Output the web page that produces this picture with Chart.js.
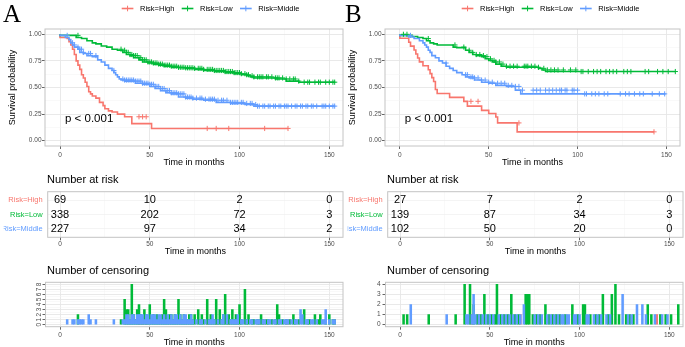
<!DOCTYPE html>
<html lang="en">
<head>
  <meta charset="UTF-8">
  <title>Survival by risk group</title>
  <script src="https://cdn.jsdelivr.net/npm/chart.js"></script>
  <style>
    body { margin: 0; background: #fff; }
    #wrap { position: relative; width: 685px; height: 347px; overflow: hidden; }
    #wrap canvas { position: absolute; left: 0; top: 0; }
    .tag { position: absolute; top: 1px; font-family: 'Liberation Serif', 'Times New Roman', serif; font-size: 25px; line-height: 1; color: #000; }
  </style>
</head>
<body>
  <div id="wrap">
    <canvas id="kmA" width="685" height="347"></canvas>
    <canvas id="tabA" width="685" height="347"></canvas>
    <canvas id="censA" width="685" height="347"></canvas>
    <canvas id="kmB" width="685" height="347"></canvas>
    <canvas id="tabB" width="685" height="347"></canvas>
    <canvas id="censB" width="685" height="347"></canvas>
    <div class="tag" style="left:3px">A</div>
    <div class="tag" style="left:345px">B</div>
  </div>

  <script>
    // ---- data ----
    const strata = ['Risk=High', 'Risk=Low', 'Risk=Middle'];
    const monthTicks = [0, 25, 50, 75, 100, 125, 150];
    const survTicks = [0, 0.125, 0.25, 0.375, 0.5, 0.625, 0.75, 0.875, 1];
    const riskTimes = [0, 50, 100, 150];

    // Panel A: survival curves
    const aHighT = [0, 4, 5, 6, 7, 8, 9, 10, 11, 12, 13, 14, 15, 16, 17, 18, 20, 22, 24, 25, 27, 29, 32, 36, 40, 51, 52, 127];
    const aHighS = [1, 0.97, 0.96, 0.93, 0.90, 0.86, 0.81, 0.75, 0.71, 0.67, 0.62, 0.59, 0.55, 0.51, 0.46, 0.44, 0.42, 0.40, 0.36, 0.33, 0.30, 0.28, 0.27, 0.25, 0.225, 0.16, 0.115, 0.115];
    const aLowT = [0, 9, 12, 15, 18, 20, 23, 26, 29, 32, 35, 37, 39, 41, 44, 46, 49, 52, 55, 58, 62, 66, 70, 75, 80, 86, 92, 97, 101, 104, 106, 108, 120, 126, 133, 135, 153];
    const aLowS = [1, 0.99, 0.97, 0.96, 0.94, 0.92, 0.91, 0.89, 0.88, 0.86, 0.85, 0.83, 0.81, 0.80, 0.78, 0.76, 0.74, 0.73, 0.72, 0.71, 0.70, 0.69, 0.685, 0.68, 0.67, 0.66, 0.65, 0.64, 0.63, 0.62, 0.61, 0.60, 0.59, 0.58, 0.56, 0.55, 0.55];
    const aMidT = [0, 3, 5, 6, 7, 8, 10, 11, 13, 15, 18, 21, 23, 25, 27, 29, 30, 31, 32, 33, 34, 36, 42, 46, 50, 53, 56, 59, 62, 66, 70, 74, 80, 87, 95, 103, 108, 110, 153];
    const aMidS = [1, 0.99, 0.97, 0.95, 0.92, 0.90, 0.88, 0.86, 0.83, 0.82, 0.80, 0.79, 0.76, 0.74, 0.71, 0.68, 0.66, 0.64, 0.62, 0.60, 0.58, 0.57, 0.56, 0.54, 0.53, 0.51, 0.49, 0.47, 0.45, 0.44, 0.41, 0.40, 0.39, 0.38, 0.36, 0.35, 0.34, 0.325, 0.325];

    // Panel A: number at risk
    const aRiskHigh = [69, 10, 2, 0];
    const aRiskLow = [338, 202, 72, 3];
    const aRiskMid = [227, 97, 34, 2];

    // Panel A: censoring times and counts
    const aCensHighT = [44, 46, 48, 82, 87, 94, 114, 127];
    const aCensHighN = [1, 1, 1, 1, 1, 1, 1, 1];
    const aCensLowT = [10, 34, 36, 37, 38, 39, 40, 41, 42, 43,
      44, 45, 46, 47, 48, 49, 50, 51, 52, 53,
      54, 55, 56, 57, 58, 59, 60, 61, 62, 63,
      64, 65, 66, 67, 68, 69, 70, 71, 72, 73,
      74, 75, 77, 78, 79, 80, 82, 83, 84, 85,
      86, 87, 88, 89, 90, 91, 92, 93, 94, 95,
      96, 97, 98, 99, 100, 101, 103, 104, 105, 107,
      108, 110, 111, 112, 113, 115, 116, 118, 120, 121,
      122, 124, 126, 128, 130, 131, 133, 136, 138, 139,
      142, 144, 145, 148, 150, 152, 153];
    const aCensLowN = [2, 1, 5, 3, 3, 1, 8, 2, 1, 3,
      4, 2, 1, 3, 2, 1, 4, 1, 2, 1,
      2, 1, 1, 2, 5, 3, 1, 2, 2, 1,
      2, 1, 5, 2, 1, 2, 1, 1, 2, 2,
      1, 2, 3, 1, 2, 1, 5, 1, 2, 1,
      1, 5, 1, 3, 1, 2, 6, 1, 2, 1,
      3, 1, 2, 1, 4, 1, 7, 1, 2, 1,
      1, 1, 1, 2, 1, 1, 1, 1, 1, 4,
      2, 1, 1, 1, 2, 1, 1, 3, 1, 1,
      2, 1, 2, 1, 2, 1, 1];
    const aCensMidT = [4, 7, 8, 10, 11, 12, 13, 16, 17, 20,
      30, 35, 36, 37, 38, 39, 40, 41, 42, 43,
      44, 45, 46, 47, 48, 49, 50, 51, 52, 53,
      54, 55, 56, 57, 58, 59, 60, 61, 62, 63,
      64, 65, 66, 67, 68, 69, 70, 71, 72, 73,
      74, 76, 78, 79, 81, 83, 84, 85, 86, 88,
      90, 91, 93, 95, 96, 97, 98, 99, 101, 102,
      104, 106, 107, 109, 110, 111, 113, 114, 116, 117,
      119, 120, 122, 123, 125, 126, 127, 129, 131, 132,
      134, 135, 137, 138, 140, 141, 143, 146, 147, 148,
      150, 152, 153];
    const aCensMidN = [1, 1, 1, 1, 1, 1, 1, 2, 1, 1,
      1, 1, 1, 2, 2, 1, 2, 2, 1, 2,
      2, 2, 2, 1, 2, 2, 1, 2, 2, 2,
      1, 2, 2, 1, 2, 1, 2, 1, 2, 1,
      2, 2, 1, 2, 1, 2, 2, 1, 1, 2,
      1, 1, 1, 1, 1, 1, 1, 2, 1, 1,
      1, 2, 2, 1, 1, 1, 1, 2, 1, 1,
      1, 1, 1, 1, 1, 1, 1, 1, 1, 1,
      1, 1, 1, 1, 1, 1, 1, 1, 1, 1,
      3, 2, 1, 1, 1, 1, 1, 1, 1, 3,
      1, 1, 1];

    // Panel B: survival curves
    const bHighT = [0, 5, 6, 8, 9, 10, 11, 13, 16, 17, 18, 19, 20, 21, 28, 36, 38, 46, 50, 54, 55, 66, 106, 143];
    const bHighS = [1, 0.963, 0.926, 0.889, 0.852, 0.815, 0.778, 0.741, 0.704, 0.667, 0.630, 0.593, 0.556, 0.481, 0.444, 0.407, 0.370, 0.325, 0.285, 0.255, 0.222, 0.167, 0.083, 0.083];
    const bLowT = [0, 7, 10, 13, 15, 17, 19, 21, 30, 32, 37, 39, 41, 43, 46, 48, 50, 52, 54, 57, 60, 78, 80, 82, 101, 155];
    const bLowS = [1, 0.99, 0.98, 0.97, 0.96, 0.94, 0.92, 0.91, 0.90, 0.88, 0.875, 0.85, 0.83, 0.81, 0.80, 0.79, 0.77, 0.755, 0.74, 0.72, 0.70, 0.69, 0.68, 0.665, 0.65, 0.65];
    const bMidT = [0, 5, 8, 11, 13, 14, 15, 16, 17, 18, 20, 22, 24, 26, 28, 30, 32, 35, 37, 39, 42, 46, 50, 54, 60, 65, 68, 104, 149.5];
    const bMidS = [1, 0.99, 0.975, 0.96, 0.94, 0.92, 0.90, 0.88, 0.85, 0.83, 0.80, 0.78, 0.75, 0.73, 0.70, 0.68, 0.66, 0.64, 0.62, 0.60, 0.59, 0.57, 0.55, 0.54, 0.52, 0.51, 0.475, 0.44, 0.44];

    // Panel B: number at risk
    const bRiskHigh = [27, 7, 2, 0];
    const bRiskLow = [139, 87, 34, 3];
    const bRiskMid = [102, 50, 20, 0];

    // Panel B: censoring times and counts
    const bCensHighT = [40, 44, 67, 143];
    const bCensHighN = [1, 1, 1, 1];
    const bCensLowT = [2, 4, 16, 31, 36, 39, 41, 43, 45, 47,
      49, 51, 53, 54, 56, 58, 60, 62, 64, 66,
      70, 71, 72, 74, 76, 78, 81, 83, 85, 87,
      89, 92, 96, 99, 102, 103, 106, 109, 111, 113,
      116, 118, 120, 122, 126, 128, 130, 138, 140, 145,
      148, 151, 155];
    const bCensLowN = [1, 1, 1, 1, 4, 4, 2, 1, 1, 3,
      1, 1, 1, 4, 1, 1, 1, 3, 1, 1,
      3, 3, 3, 1, 1, 1, 2, 1, 1, 1,
      1, 1, 2, 1, 2, 2, 1, 1, 1, 3,
      1, 3, 4, 1, 1, 1, 1, 2, 1, 1,
      1, 1, 2];
    const bCensMidT = [6, 26, 37, 38, 40, 41, 42, 44, 46, 48,
      50, 52, 55, 57, 59, 61, 63, 65, 67, 69,
      75, 77, 79, 82, 84, 86, 88, 90, 91, 93,
      94, 97, 98, 100, 104, 105, 108, 110, 112, 115,
      117, 124, 127, 129, 132, 135, 137, 142, 146, 149];
    const bCensMidN = [2, 1, 1, 1, 1, 3, 1, 1, 1, 1,
      1, 1, 1, 1, 1, 1, 1, 1, 1, 2,
      1, 1, 1, 1, 1, 1, 1, 1, 1, 1,
      1, 1, 1, 1, 1, 1, 1, 1, 1, 1,
      1, 3, 1, 1, 2, 2, 1, 1, 1, 1];

    // ---- drawing ----
    const FONT = "'Liberation Sans', Arial, Helvetica, sans-serif";
    Chart.defaults.font.family = FONT;
    Chart.defaults.color = '#4d4d4d';
    Chart.defaults.animation = false;
    Chart.defaults.plugins.legend.display = false;
    Chart.defaults.plugins.tooltip.enabled = false;

    const W = 685, H = 347;
    const COLORS = ['#F8766D', '#00BA38', '#619CFF'];
    const PX_PER_MONTH = 269.3 / 150;
    const ZERO_X = 60;
    const PVAL_AT = [2.8, 0.21];
    const LEGEND_X = [121.7, 181.7, 240];

    // plot panels of panel A in page pixels; panel B is the same shifted by 340
    const BOX = {
      km:   { l: 45,   r: 343, t: 29,    b: 146 },
      tab:  { l: 47.7, r: 343, t: 191.7, b: 237.3 },
      cens: { l: 45.5, r: 343, t: 282.3, b: 326.7 }
    };

    const isMult = (v, step) => Math.abs(v / step - Math.round(v / step)) < 1e-6;
    const monthsAt = px => (px - ZERO_X) / PX_PER_MONTH;

    function survAt(T, S, t) {
      let v = S[0];
      for (let i = 0; i < T.length; i++) {
        if (T[i] <= t) v = S[i];
      }
      return v;
    }

    function grid(step) {
      const major = c => c.tick && isMult(c.tick.value, step);
      return {
        color: c => major(c) ? '#e6e6e6' : '#f3f3f3',
        lineWidth: c => major(c) ? 0.9 : 0.5,
        tickColor: c => major(c) ? '#555' : 'rgba(0,0,0,0)',
        tickLength: 3,
        offset: false
      };
    }

    function pad(box, dx, yW, xH) {
      return { left: box.l + dx - yW, right: W - box.r - dx, top: box.t, bottom: H - box.b - xH };
    }

    function xAxis(box, xH, tickPad, titlePad) {
      return {
        type: 'linear',
        offset: false,
        min: monthsAt(box.l),
        max: monthsAt(box.r),
        afterBuildTicks: s => { s.ticks = monthTicks.map(v => ({ value: v })); },
        afterFit: s => { s.height = xH; },
        ticks: { autoSkip: false, maxRotation: 0, padding: tickPad, font: { size: 6.5 },
                 callback: v => isMult(v, 50) ? String(v) : '' },
        grid: grid(50),
        border: { display: false },
        title: { display: true, text: 'Time in months', color: '#000',
                 font: { size: 9, lineHeight: 1 }, padding: { top: 0, bottom: titlePad } }
      };
    }

    function frame(ctx, a) {
      ctx.save();
      ctx.strokeStyle = '#c4c4c4';
      ctx.lineWidth = 1;
      ctx.strokeRect(a.left, a.top, a.right - a.left, a.bottom - a.top);
      ctx.restore();
    }

    function text(ctx, str, x, y, size, color, align, angle) {
      ctx.save();
      ctx.font = size + 'px ' + FONT;
      ctx.fillStyle = color;
      ctx.textAlign = align || 'left';
      ctx.textBaseline = 'middle';
      ctx.translate(x, y);
      if (angle) ctx.rotate(angle);
      ctx.fillText(str, 0, 0);
      ctx.restore();
    }

    function drawKM(id, dx, times, surv, cens) {
      const box = BOX.km, yW = 45, xH = 24;
      const lines = [], marks = [];
      [0, 1, 2].forEach(i => {
        lines.push({
          showLine: true, stepped: 'after',
          data: times[i].map((t, j) => ({ x: t, y: surv[i][j] })),
          borderColor: COLORS[i], borderWidth: 1.6, pointRadius: 0
        });
        const last = times[i][times[i].length - 1];
        marks.push({
          showLine: false,
          data: cens[i].filter(c => c <= last).map(c => ({ x: c, y: survAt(times[i], surv[i], c) })),
          pointStyle: 'cross', pointRadius: 2.6, borderWidth: 1, borderColor: COLORS[i]
        });
      });
      new Chart(document.getElementById(id), {
        type: 'scatter',
        data: { datasets: marks.reverse().concat(lines.reverse()) },
        options: {
          responsive: false,
          layout: { padding: pad(box, dx, yW, xH) },
          scales: {
            x: xAxis(box, xH, 2, 2.5),
            y: {
              min: -0.05, max: 1.05,
              afterBuildTicks: s => { s.ticks = survTicks.map(v => ({ value: v })); },
              afterFit: s => { s.width = yW; },
              ticks: { autoSkip: false, padding: 0.5, font: { size: 6.5 },
                       callback: v => isMult(v, 0.25) ? v.toFixed(2) : '' },
              grid: grid(0.25),
              border: { display: false },
              title: { display: true, text: 'Survival probability', color: '#000',
                       font: { size: 9, lineHeight: 1 }, padding: { top: 8, bottom: 0 } }
            }
          }
        },
        plugins: [{
          id: 'kmExtras',
          afterDraw(chart) {
            const { ctx, chartArea, scales } = chart;
            frame(ctx, chartArea);
            text(ctx, 'p < 0.001', scales.x.getPixelForValue(PVAL_AT[0]), scales.y.getPixelForValue(PVAL_AT[1]), 11.5, '#000');
            // legend: line with a cross, then the label
            strata.forEach((name, i) => {
              const x0 = LEGEND_X[i] + dx, y = 8.5;
              ctx.save();
              ctx.strokeStyle = COLORS[i];
              ctx.lineWidth = 1.6;
              ctx.beginPath(); ctx.moveTo(x0, y); ctx.lineTo(x0 + 11.7, y); ctx.stroke();
              ctx.lineWidth = 1;
              ctx.beginPath();
              ctx.moveTo(x0 + 5.85, y - 2.8); ctx.lineTo(x0 + 5.85, y + 2.8);
              ctx.moveTo(x0 + 3, y); ctx.lineTo(x0 + 8.7, y);
              ctx.stroke();
              ctx.restore();
              text(ctx, name, x0 + 18.3, y, 7.5, '#000');
            });
          }
        }]
      });
    }

    function drawTable(id, dx, rows, clipLeft) {
      const box = BOX.tab, yW = 44, xH = 19;
      new Chart(document.getElementById(id), {
        type: 'scatter',
        data: { datasets: [] },
        options: {
          responsive: false,
          layout: { padding: pad(box, dx, yW, xH) },
          scales: {
            x: xAxis(box, xH, 0, 0),
            y: {
              min: 0.4, max: 3.6,
              afterBuildTicks: s => { s.ticks = [1, 2, 3].map(v => ({ value: v })); },
              afterFit: s => { s.width = yW; },
              ticks: { autoSkip: false, padding: 5, font: { size: 7.5 },
                       color: c => COLORS[3 - c.tick.value],
                       callback: v => strata[3 - v] },
              grid: { color: '#ededed', lineWidth: 0.6, drawTicks: false },
              border: { display: false }
            }
          }
        },
        plugins: [{
          id: 'riskTable',
          beforeDraw(chart) {
            const ctx = chart.ctx;
            ctx.save();
            ctx.beginPath();
            ctx.rect(clipLeft, 0, W - clipLeft, H);
            ctx.clip();
          },
          afterDraw(chart) {
            const { ctx, chartArea, scales } = chart;
            frame(ctx, chartArea);
            rows.forEach((row, i) => {
              row.forEach((n, j) => {
                text(ctx, String(n), scales.x.getPixelForValue(riskTimes[j]),
                     scales.y.getPixelForValue(3 - i), 11, '#000', 'center');
              });
            });
            text(ctx, 'Number at risk', 47 + dx, 180, 11, '#000');
            ctx.restore();
          }
        }]
      });
    }

    function drawCens(id, dx, times, counts, yMax, rotate) {
      const box = BOX.cens, yW = 40, xH = H - BOX.cens.b;
      const yTicks = [];
      for (let v = 0; v <= yMax; v += 0.5) yTicks.push(v);
      new Chart(document.getElementById(id), {
        type: 'bar',
        data: {
          datasets: [2, 1, 0].map(i => ({
            data: times[i].map((t, j) => ({ x: t, y: counts[i][j] })),
            backgroundColor: COLORS[i], borderWidth: 0,
            barThickness: 1.9, grouped: false
          }))
        },
        options: {
          responsive: false,
          layout: { padding: pad(box, dx, yW, xH) },
          scales: {
            x: xAxis(box, xH, 1.5, 0),
            y: {
              min: -yMax * 0.05, max: yMax * 1.05,
              afterBuildTicks: s => { s.ticks = yTicks.map(v => ({ value: v })); },
              afterFit: s => { s.width = yW; },
              ticks: { autoSkip: false, padding: 2, font: { size: 6.5 },
                       // panel A's labels are drawn turned on their side below
                       callback: v => !rotate && isMult(v, 1) ? String(v) : '' },
              grid: grid(1),
              border: { display: false }
            }
          }
        },
        plugins: [{
          id: 'censExtras',
          afterDraw(chart) {
            const { ctx, chartArea, scales } = chart;
            frame(ctx, chartArea);
            if (rotate) {
              yTicks.filter(v => isMult(v, 1)).forEach(v => {
                text(ctx, String(v), chartArea.left - 6, scales.y.getPixelForValue(v), 6.5, '#4d4d4d', 'center', -Math.PI / 2);
              });
            }
            text(ctx, 'Number of censoring', 47 + dx, 271, 11, '#000');
          }
        }]
      });
    }

    drawKM('kmA', 0, [aHighT, aLowT, aMidT], [aHighS, aLowS, aMidS], [aCensHighT, aCensLowT, aCensMidT]);
    drawTable('tabA', 0, [aRiskHigh, aRiskLow, aRiskMid], 0);
    drawCens('censA', 0, [aCensHighT, aCensLowT, aCensMidT], [aCensHighN, aCensLowN, aCensMidN], 8, true);

    drawKM('kmB', 340, [bHighT, bLowT, bMidT], [bHighS, bLowS, bMidS], [bCensHighT, bCensLowT, bCensMidT]);
    drawTable('tabB', 340, [bRiskHigh, bRiskLow, bRiskMid], 347.5);
    drawCens('censB', 340, [bCensHighT, bCensLowT, bCensMidT], [bCensHighN, bCensLowN, bCensMidN], 4, false);
  </script>
</body>
</html>
